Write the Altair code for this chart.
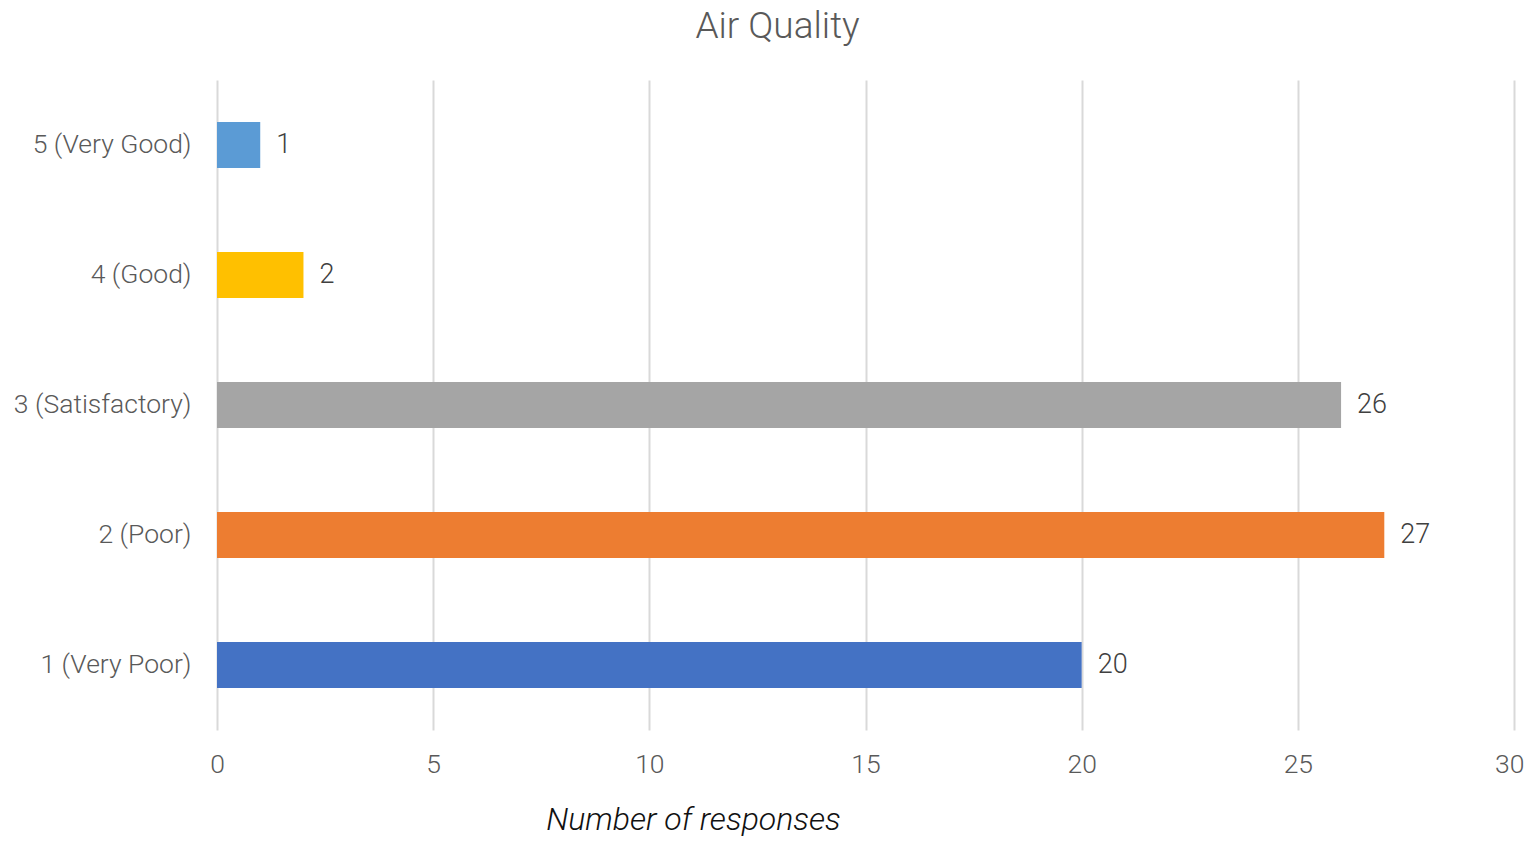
import altair as alt
import pandas as pd

categories = ["5 (Very Good)", "4 (Good)", "3 (Satisfactory)", "2 (Poor)", "1 (Very Poor)"]
values = [1, 2, 26, 27, 20]
colors = ["#5B9BD5", "#FFC000", "#A5A5A5", "#ED7D31", "#4472C4"]
x_ticks = [0, 5, 10, 15, 20, 25, 30]

df = pd.DataFrame({"cat": categories, "n": values})

FONT = "Roboto"

y_enc = alt.Y(
    "cat:N",
    sort=categories,
    scale=alt.Scale(paddingInner=0.646, paddingOuter=0.323),
    axis=alt.Axis(
        title=None, domain=False, ticks=False, grid=False,
        labelFont=FONT, labelFontWeight=300, labelFontSize=26.5,
        labelColor="#595959", labelPadding=26,
    ),
)
x_enc = alt.X(
    "n:Q",
    scale=alt.Scale(domain=[0, 30], nice=False),
    axis=alt.Axis(
        title="Number of responses", values=x_ticks,
        domain=False, ticks=False, grid=True, gridColor="#d9d9d9", gridWidth=2,
        labelFont=FONT, labelFontWeight=300, labelFontSize=26.5, labelColor="#595959",
        labelPadding=21, labelFlush=False,
        labelAlign={"condition": {"test": "datum.value == 30", "value": "right"}, "value": "center"},
        labelOffset={"condition": {"test": "datum.value == 30", "value": 10}, "value": 0},
        titleFont=FONT, titleFontWeight=300, titleFontStyle="italic", titleFontSize=32,
        titleColor="#111111", titleX=476, titleY=89, titleBaseline="middle",
        titleAnchor="start", titleAlign="center",
    ),
)

bars = alt.Chart(df).mark_bar().encode(
    x=x_enc,
    y=y_enc,
    color=alt.Color("cat:N", scale=alt.Scale(domain=categories, range=colors), legend=None),
)

labels = alt.Chart(df).mark_text(
    align="left", baseline="middle", dx=16, font=FONT, fontWeight=300, fontSize=27, color="#404040"
).encode(
    x=alt.X("n:Q"),
    y=alt.Y("cat:N", sort=categories),
    text="n:Q",
)

chart = (bars + labels).properties(
    width=1297,
    height=650,
    autosize=alt.AutoSizeParams(type="none"),
    padding={"left": 209, "top": 72, "right": 12, "bottom": 106},
    title=alt.TitleParams(
        "Air Quality", font=FONT, fontWeight=300, fontSize=37, color="#595959",
        anchor="middle", dx=-88, offset=34,
    ),
).configure_view(stroke=None)

chart.save("out.html", embed_options={"renderer": "svg", "actions": False})
